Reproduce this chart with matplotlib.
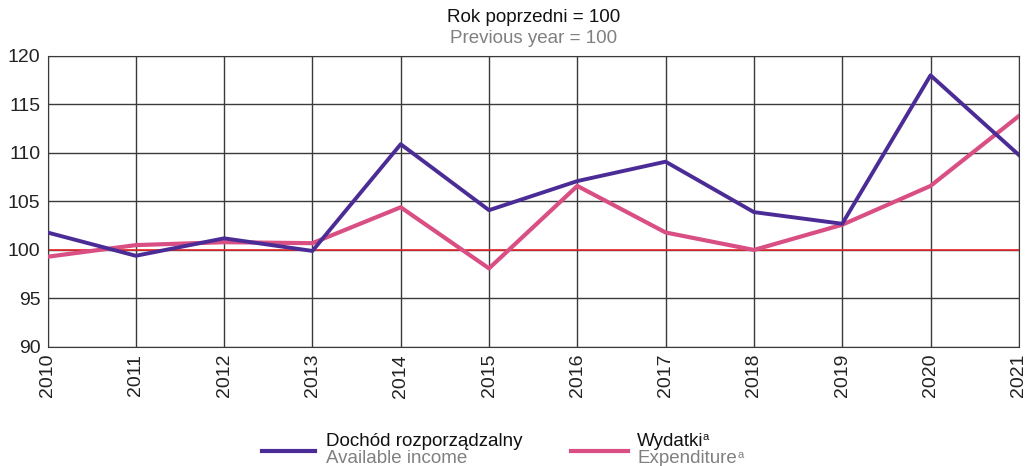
import matplotlib
matplotlib.use('agg')
import matplotlib.pyplot as plt
from matplotlib.lines import Line2D

plt.rcParams['font.family'] = ['Liberation Sans', 'DejaVu Sans']

years = [2010, 2011, 2012, 2013, 2014, 2015, 2016, 2017, 2018, 2019, 2020, 2021]
income = [101.8, 99.4, 101.2, 99.9, 110.9, 104.1, 107.1, 109.1, 103.9, 102.7, 118.0, 109.8]
expenditure = [99.3, 100.5, 100.8, 100.7, 104.4, 98.1, 106.6, 101.8, 100.0, 102.6, 106.6, 113.8]

c_income = '#4B2C96'
c_exp = '#D94F84'
gray = '#808080'

fig = plt.figure(figsize=(10.26, 4.66), dpi=100)
ax = fig.add_axes([0.0463, 0.2554, 0.9467, 0.6246])

ax.axhline(100, color='#E8262A', lw=1.2, zorder=2)
ax.plot(years, expenditure, color=c_exp, lw=3, zorder=3)
ax.plot(years, income, color=c_income, lw=2.8, zorder=4)

ax.set_xlim(2010, 2021)
ax.set_ylim(90, 120)
ax.set_yticks(range(90, 121, 5))
ax.set_xticks(years)
ax.set_xticklabels([str(y) for y in years], rotation=90)
ax.grid(True, color='#3a3a3a', lw=1, zorder=1)
for s in ax.spines.values():
	s.set_color('#3a3a3a')
ax.tick_params(length=0, labelsize=14, pad=5, colors='#222222')

fig.text(0.52, 0.962, 'Rok poprzedni = 100', ha='center', va='center', fontsize=13.5, color='#111111')
fig.text(0.52, 0.918, 'Previous year = 100', ha='center', va='center', fontsize=13.5, color=gray)

# legend
fig.add_artist(Line2D([0.255, 0.307], [0.032, 0.032], color=c_income, lw=3))
fig.text(0.318, 0.053, 'Dochód rozporządzalny', fontsize=13.5, va='center', color='#111111')
fig.text(0.318, 0.016, 'Available income', fontsize=13.5, va='center', color=gray)
fig.add_artist(Line2D([0.557, 0.612], [0.032, 0.032], color=c_exp, lw=3))
fig.text(0.621, 0.053, 'Wydatki', fontsize=13.5, va='center', color='#111111')
fig.text(0.685, 0.062, 'a', fontsize=8, va='center', color='#111111')
fig.text(0.621, 0.016, 'Expenditure', fontsize=13.5, va='center', color=gray)
fig.text(0.719, 0.024, 'a', fontsize=8, va='center', color=gray)

fig.savefig('out.png', dpi=100)
